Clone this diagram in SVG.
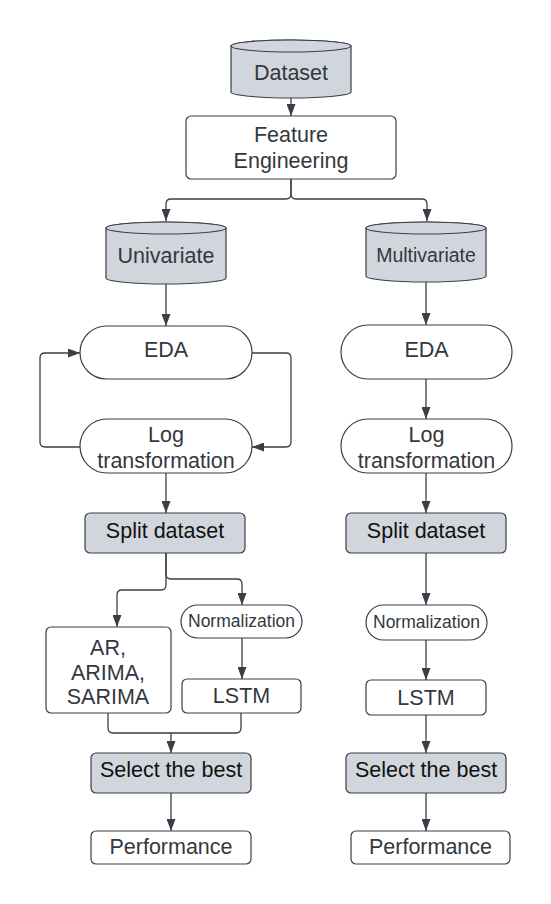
<svg xmlns="http://www.w3.org/2000/svg" width="551" height="904" viewBox="0 0 551 904">
<style>
.box{fill:#ffffff;stroke:#3a3f47;stroke-width:1.2}
.gray{fill:#d1d6dd;stroke:#3a3f47;stroke-width:1.2}
.t{font-family:"Liberation Sans",Arial,sans-serif;font-size:21.5px;fill:#333840;text-anchor:middle}
.tb{fill:#111111}
.sm{font-size:19.5px}
.xs{font-size:17.5px}
.c{fill:none;stroke:#3a3f47;stroke-width:1.3}
.a{marker-end:url(#ah)}
</style>
<defs>
<marker id="ah" viewBox="0 0 12 9" refX="12" refY="4.5" markerWidth="12" markerHeight="9" markerUnits="userSpaceOnUse" orient="auto">
<path d="M0,0 L12,4.5 L0,9 z" fill="#3a3f47"/>
</marker>
</defs>
<rect width="551" height="904" fill="#ffffff"/>

<g id="connectors">
<path class="c a" d="M291,98 V116"/>
<path class="c a" d="M291,179 V194 Q291,199 286,199 H171 Q166,199 166,204 V221"/>
<path class="c a" d="M291,179 V194 Q291,199 296,199 H422 Q427,199 427,204 V221"/>
<path class="c a" d="M166,284 V326"/>
<path class="c a" d="M252,353 H286 Q291,353 291,358 V442 Q291,447 286,447 H252"/>
<path class="c a" d="M80,447 H45 Q40,447 40,442 V358 Q40,353 45,353 H80"/>
<path class="c a" d="M166,473 V513"/>
<path class="c a" d="M166,553 V574 Q166,579 171,579 H237 Q242,579 242,584 V605"/>
<path class="c a" d="M166,553 V585 Q166,590 161,590 H122 Q117,590 117,595 V627"/>
<path class="c a" d="M242,638 V679"/>
<path class="c" d="M108,713 V728 Q108,733 113,733 H236 Q241,733 241,728 V713"/>
<path class="c a" d="M171,733 V753"/>
<path class="c a" d="M171,793 V831"/>
<path class="c a" d="M426,282 V325"/>
<path class="c a" d="M426,379 V419"/>
<path class="c a" d="M426,473 V513"/>
<path class="c a" d="M426,553 V605"/>
<path class="c a" d="M426,640 V680"/>
<path class="c a" d="M426,715 V753"/>
<path class="c a" d="M426,793 V831"/>
</g>

<g id="dataset">
<path class="gray" d="M231,46 V92 A60,6 0 0 0 351,92 V46 A60,6 0 0 0 231,46 Z"/>
<ellipse class="gray" cx="291" cy="46" rx="60" ry="6"/>
<text class="t" x="291" y="80">Dataset</text>
</g>

<g id="feature-engineering">
<rect class="box" x="186" y="116" width="210" height="63" rx="5"/>
<text class="t" x="291" y="142">Feature</text>
<text class="t" x="291" y="168">Engineering</text>
</g>

<g id="univariate">
<path class="gray" d="M106,228 V278 A60,6 0 0 0 226,278 V228 A60,6 0 0 0 106,228 Z"/>
<ellipse class="gray" cx="166" cy="228" rx="60" ry="6"/>
<text class="t" x="166" y="263">Univariate</text>
</g>

<g id="multivariate">
<path class="gray" d="M366,228 V276 A60,6 0 0 0 486,276 V228 A60,6 0 0 0 366,228 Z"/>
<ellipse class="gray" cx="426" cy="228" rx="60" ry="6"/>
<text class="t sm" x="426" y="262">Multivariate</text>
</g>

<g id="eda-left">
<rect class="box" x="80" y="326" width="172" height="53" rx="26.5"/>
<text class="t" x="166" y="357">EDA</text>
</g>

<g id="log-left">
<rect class="box" x="80" y="419" width="172" height="54" rx="27"/>
<text class="t" x="166" y="442">Log</text>
<text class="t" x="166" y="468">transformation</text>
</g>

<g id="split-left">
<rect class="gray" x="85" y="513" width="160" height="40" rx="5"/>
<text class="t tb" x="165" y="538">Split dataset</text>
</g>

<g id="normalization-left">
<rect class="box" x="181" y="605" width="121" height="33" rx="16.5"/>
<text class="t xs" x="241.5" y="627">Normalization</text>
</g>

<g id="models-left">
<rect class="box" x="46" y="627" width="125" height="86" rx="5"/>
<text class="t" x="108" y="655">AR,</text>
<text class="t" x="108" y="680">ARIMA,</text>
<text class="t" x="108" y="704">SARIMA</text>
</g>

<g id="lstm-left">
<rect class="box" x="182" y="679" width="119" height="34" rx="5"/>
<text class="t" x="241.5" y="703">LSTM</text>
</g>

<g id="select-left">
<rect class="gray" x="91" y="753" width="160" height="40" rx="5"/>
<text class="t tb" x="171" y="777">Select the best</text>
</g>

<g id="performance-left">
<rect class="box" x="91" y="831" width="160" height="33" rx="5"/>
<text class="t" x="171" y="854">Performance</text>
</g>

<g id="eda-right">
<rect class="box" x="341" y="325" width="171" height="54" rx="27"/>
<text class="t" x="426.5" y="357">EDA</text>
</g>

<g id="log-right">
<rect class="box" x="341" y="419" width="171" height="54" rx="27"/>
<text class="t" x="426.5" y="442">Log</text>
<text class="t" x="426.5" y="468">transformation</text>
</g>

<g id="split-right">
<rect class="gray" x="346" y="513" width="160" height="40" rx="5"/>
<text class="t tb" x="426" y="538">Split dataset</text>
</g>

<g id="normalization-right">
<rect class="box" x="366" y="605" width="121" height="35" rx="17.5"/>
<text class="t xs" x="426.5" y="628">Normalization</text>
</g>

<g id="lstm-right">
<rect class="box" x="366" y="680" width="120" height="35" rx="5"/>
<text class="t" x="426" y="705">LSTM</text>
</g>

<g id="select-right">
<rect class="gray" x="346" y="753" width="160" height="40" rx="5"/>
<text class="t tb" x="426" y="777">Select the best</text>
</g>

<g id="performance-right">
<rect class="box" x="351" y="831" width="159" height="33" rx="5"/>
<text class="t" x="430.5" y="854">Performance</text>
</g>
</svg>
